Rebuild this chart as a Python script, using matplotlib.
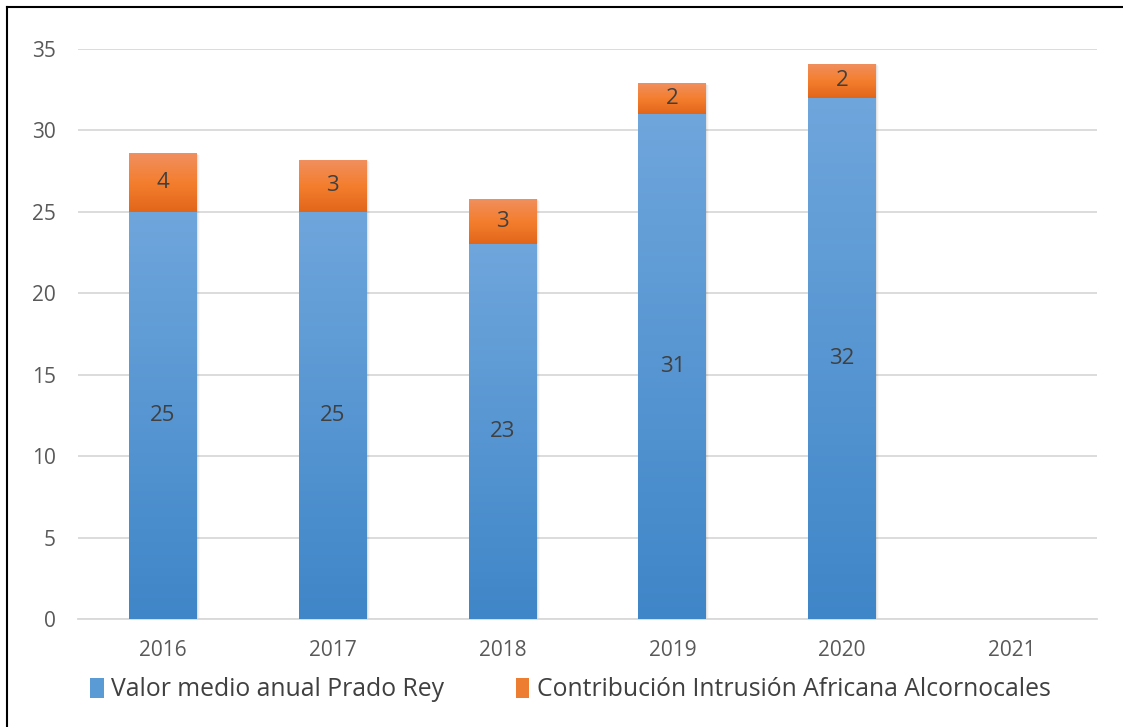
import matplotlib
matplotlib.use("Agg")
import matplotlib.pyplot as plt
import numpy as np
from matplotlib.colors import LinearSegmentedColormap
from matplotlib.patches import Rectangle
from matplotlib.lines import Line2D

years = ["2016", "2017", "2018", "2019", "2020", "2021"]
prado_rey = [25, 25, 23, 31, 32, np.nan]
intrusion = [3.6, 3.2, 2.8, 1.9, 2.1, np.nan]
prado_labels = ["25", "25", "23", "31", "32", ""]
intrusion_labels = ["4", "3", "3", "2", "2", ""]
series_names = ["Valor medio anual Prado Rey", "Contribución Intrusión Africana Alcornocales"]

plt.rcParams['font.family'] = ['Open Sans', 'DejaVu Sans']

fig = plt.figure(figsize=(11.23, 7.27), dpi=100)
ax = fig.add_axes([0.0695, 0.1486, 0.9073, 0.784])

x = np.arange(len(years))
w = 0.4

blue_cmap = LinearSegmentedColormap.from_list("b", ["#3f86c8", "#6fa6dc"])
orange_cmap = LinearSegmentedColormap.from_list("o", ["#e2661a", "#f47e2e", "#f09060"])

bars1 = ax.bar(x, np.nan_to_num(prado_rey), w, color="none", edgecolor="none", zorder=3)
bars2 = ax.bar(x, np.nan_to_num(intrusion), w, bottom=np.nan_to_num(prado_rey), color="none",
               edgecolor="none", zorder=3)

def grad_fill(bars, cmap):
    for b in bars:
        h = b.get_height()
        if h <= 0:
            continue
        x0, y0 = b.get_x(), b.get_y()
        bw = b.get_width()
        for k, a in enumerate([0.06, 0.04, 0.02]):
            ax.add_patch(Rectangle((x0 + 0.006 * (k + 1), y0 - 0.04 * (k + 1)), bw, h,
                                   facecolor="black", alpha=a, edgecolor="none", zorder=2))
        grad = np.linspace(0, 1, 256).reshape(-1, 1)
        im = ax.imshow(grad, cmap=cmap, aspect="auto", origin="lower",
                       extent=[x0, x0 + bw, y0, y0 + h], zorder=3)
        im.set_clip_path(b)

grad_fill(bars1, blue_cmap)
grad_fill(bars2, orange_cmap)

for i in range(len(years)):
    if prado_labels[i]:
        ax.text(x[i], prado_rey[i] / 2, prado_labels[i], ha="center", va="center",
                fontsize=16, color="#404040", zorder=5)
    if intrusion_labels[i]:
        ax.text(x[i], prado_rey[i] + intrusion[i] / 2, intrusion_labels[i], ha="center",
                va="center", fontsize=16, color="#404040", zorder=5)

ax.set_xlim(-0.5, len(years) - 0.5)
ax.set_ylim(0, 35)
ax.set_yticks(np.arange(0, 36, 5))
ax.set_xticks(x)
ax.set_xticklabels(years)
ax.grid(axis="y", color="#d9d9d9", linewidth=1.3, zorder=0)
ax.set_axisbelow(True)
for s in ["top", "right", "left"]:
    ax.spines[s].set_visible(False)
ax.spines["bottom"].set_color("#d9d9d9")
ax.spines["bottom"].set_linewidth(1.3)
ax.tick_params(axis="both", length=0, labelsize=15, colors="#595959")
ax.tick_params(axis="x", pad=15)
ax.tick_params(axis="y", pad=16)

handles = [Rectangle((0, 0), 1, 1, facecolor="#5b9bd5"), Rectangle((0, 0), 1, 1, facecolor="#ed7d31")]
leg = fig.legend(handles, series_names, loc="center", bbox_to_anchor=(0.508, 0.051), ncol=2,
                 frameon=False, fontsize=17.8, handlelength=0.55, handleheight=0.9,
                 handletextpad=0.3, columnspacing=2.9, labelcolor="#404040")

fig.add_artist(Line2D([7 / 1123, 7 / 1123], [0, 1 - 7 / 727], transform=fig.transFigure,
                      color="black", linewidth=1.5))
fig.add_artist(Line2D([7 / 1123, 1], [1 - 7 / 727, 1 - 7 / 727], transform=fig.transFigure,
                      color="black", linewidth=1.5))

fig.savefig("out.png", dpi=100)
